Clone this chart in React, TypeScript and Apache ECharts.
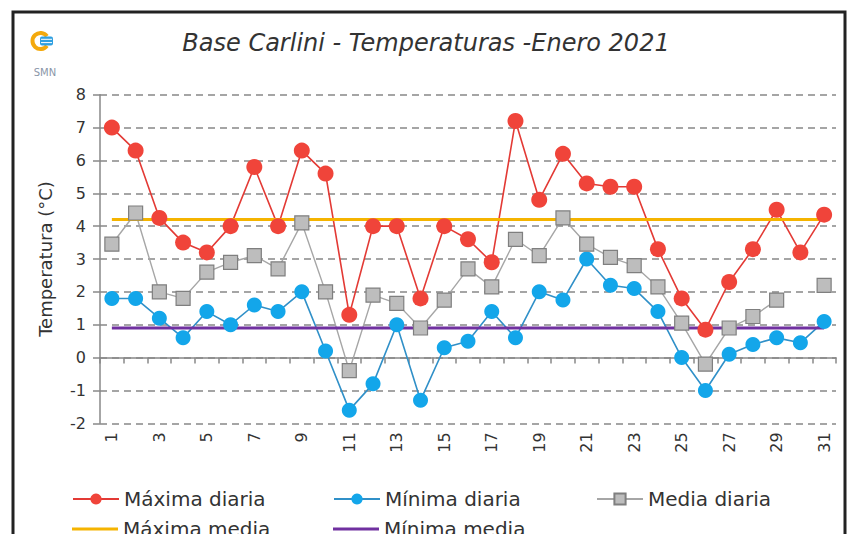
import React, { useEffect, useRef } from "react";
import * as echarts from "echarts";

const days = ["1","2","3","4","5","6","7","8","9","10","11","12","13","14","15","16","17","18","19","20","21","22","23","24","25","26","27","28","29","30","31"];
const maxDiaria = [7.0, 6.3, 4.25, 3.5, 3.2, 4.0, 5.8, 4.0, 6.3, 5.6, 1.3, 4.0, 4.0, 1.8, 4.0, 3.6, 2.9, 7.2, 4.8, 6.2, 5.3, 5.2, 5.2, 3.3, 1.8, 0.85, 2.3, 3.3, 4.5, 3.2, 4.35];
const minDiaria = [1.8, 1.8, 1.2, 0.6, 1.4, 1.0, 1.6, 1.4, 2.0, 0.2, -1.6, -0.8, 1.0, -1.3, 0.3, 0.5, 1.4, 0.6, 2.0, 1.75, 3.0, 2.2, 2.1, 1.4, 0.0, -1.0, 0.1, 0.4, 0.6, 0.45, 1.1];
const mediaDiaria = [3.45, 4.4, 2.0, 1.8, 2.6, 2.9, 3.1, 2.7, 4.1, 2.0, -0.4, 1.9, 1.65, 0.9, 1.75, 2.7, 2.15, 3.6, 3.1, 4.25, 3.45, 3.05, 2.8, 2.15, 1.05, -0.2, 0.9, 1.25, 1.75, null, 2.2];
const maximaMedia = 4.2;
const minimaMedia = 0.9;

const FONT = "DejaVu Sans";

export default function App() {
  const ref = useRef<HTMLDivElement>(null);
  useEffect(() => {
    if (!ref.current) return;
    const chart = echarts.init(ref.current, undefined, { renderer: "svg" });
    const legendText = { fontFamily: FONT, fontSize: 20, color: "#333" };
    const mkLegend = (name: string, left: number, top: number, lineOnly = false) => ({
      data: [lineOnly ? { name, icon: "rect" } : name],
      left, top,
      itemWidth: 46, itemHeight: lineOnly ? 3 : 14,
      textStyle: legendText, padding: 0,
    });
    chart.setOption({
      animation: false,
      backgroundColor: "#fff",
      grid: { left: 100, right: 16, top: 94.7, bottom: 110.7, containLabel: false },
      legend: [
        mkLegend("Máxima diaria", 72, 489),
        mkLegend("Mínima diaria", 333, 489),
        mkLegend("Media diaria", 596, 489),
        mkLegend("Máxima media", 72, 519, true),
        mkLegend("Mínima media", 333, 519, true),
      ],
      graphic: [
        { type: "rect", shape: { x: 13, y: 12, width: 832, height: 600 }, style: { fill: "none", stroke: "#222", lineWidth: 3 }, z: 10 },
        { type: "text", left: "center", top: 31, style: { text: "Base Carlini - Temperaturas -Enero 2021", font: `italic 24px "${FONT}"`, fill: "#333" } },
        { type: "arc", shape: { cx: 40.5, cy: 41, r: 8, startAngle: Math.PI * 0.2, endAngle: Math.PI * 1.8, clockwise: true }, style: { stroke: "#f4a90c", lineWidth: 4, fill: "none" } },
        { type: "rect", shape: { x: 40, y: 36.5, width: 13, height: 9, r: 2 }, style: { fill: "#2f9fe0" } },
        { type: "line", shape: { x1: 41, y1: 39.3, x2: 52, y2: 39.3 }, style: { stroke: "#fff", lineWidth: 1 } },
        { type: "line", shape: { x1: 41, y1: 42.6, x2: 52, y2: 42.6 }, style: { stroke: "#fff", lineWidth: 1 } },
        { type: "text", x: 45, y: 72, style: { text: "SMN", font: `10px "${FONT}"`, fill: "#8a96a8", align: "center", verticalAlign: "middle" } },
      ],
      xAxis: {
        type: "category",
        data: days,
        boundaryGap: true,
        axisLine: { lineStyle: { color: "#888", width: 1.5 } },
        axisTick: { show: true, interval: 0, length: 6, lineStyle: { color: "#888", width: 1.5 } },
        axisLabel: { interval: 1, rotate: 90, margin: 9, fontFamily: FONT, fontSize: 16, color: "#333" },
        splitLine: { show: false },
      },
      yAxis: {
        type: "value",
        min: -2, max: 8, interval: 1,
        name: "Temperatura (°C)",
        nameLocation: "middle",
        nameGap: 46,
        nameTextStyle: { fontFamily: FONT, fontSize: 18, color: "#333" },
        axisLine: { show: true, lineStyle: { color: "#888", width: 1.5 } },
        axisTick: { show: true, length: 7, lineStyle: { color: "#888", width: 1.5 } },
        axisLabel: { margin: 14, fontFamily: FONT, fontSize: 16, color: "#333" },
        splitLine: { show: true, lineStyle: { color: "#888", width: 1.5, type: [7, 5] } },
      },
      series: [
        {
          name: "Máxima diaria", type: "line", data: maxDiaria, showAllSymbol: true,
          symbol: "circle", symbolSize: 16,
          itemStyle: { color: "#f0443a" },
          lineStyle: { color: "#e33a35", width: 1.6 },
        },
        {
          name: "Mínima diaria", type: "line", data: minDiaria, showAllSymbol: true,
          symbol: "circle", symbolSize: 15,
          itemStyle: { color: "#13a6ea" },
          lineStyle: { color: "#3090c8", width: 1.6 },
        },
        {
          name: "Media diaria", type: "line", data: mediaDiaria, connectNulls: false, showAllSymbol: true,
          symbol: "rect", symbolSize: 14,
          itemStyle: { color: "#bdbdbd", borderColor: "#7f7f7f", borderWidth: 1.2 },
          lineStyle: { color: "#a6a6a6", width: 1.4 },
        },
        {
          name: "Máxima media", type: "line", data: days.map(() => maximaMedia),
          symbol: "none", itemStyle: { color: "#f5b400" },
          lineStyle: { color: "#f5b400", width: 3 },
        },
        {
          name: "Mínima media", type: "line", data: days.map(() => minimaMedia),
          symbol: "none", itemStyle: { color: "#7030a0" },
          lineStyle: { color: "#7030a0", width: 3 },
        },
      ],
    });
    return () => chart.dispose();
  }, []);
  return <div ref={ref} style={{ position: "fixed", left: 0, top: 0, width: 852, height: 534 }} />;
}
